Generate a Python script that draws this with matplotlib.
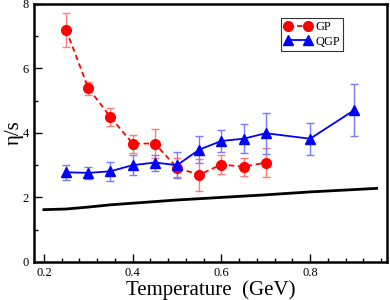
import matplotlib

matplotlib.use("Agg")
import matplotlib.pyplot as plt
from matplotlib.ticker import MultipleLocator

plt.rcParams["font.family"] = ["Liberation Serif", "DejaVu Serif"]

# GP (hadron gas) points
gp_T = [0.25, 0.30, 0.35, 0.40, 0.45, 0.50, 0.55, 0.60, 0.65, 0.70]
gp_eta = [7.2, 5.39, 4.49, 3.67, 3.67, 2.92, 2.70, 3.02, 2.95, 3.08]
gp_err = [0.53, 0.20, 0.28, 0.28, 0.45, 0.30, 0.50, 0.30, 0.28, 0.45]

# QGP points
qgp_T = [0.25, 0.30, 0.35, 0.40, 0.45, 0.50, 0.55, 0.60, 0.65, 0.70, 0.80, 0.90]
qgp_eta = [2.78, 2.76, 2.81, 3.00, 3.08, 3.00, 3.48, 3.75, 3.82, 3.99, 3.82, 4.71]
qgp_err = [0.23, 0.18, 0.30, 0.30, 0.25, 0.40, 0.42, 0.35, 0.45, 0.64, 0.50, 0.80]

# black reference curve
ref_T = [0.20, 0.25, 0.30, 0.35, 0.40, 0.50, 0.60, 0.70, 0.80, 0.95]
ref_eta = [1.62, 1.64, 1.70, 1.77, 1.82, 1.92, 2.00, 2.08, 2.17, 2.28]

fig = plt.figure(figsize=(3.9, 3.0), dpi=100)
ax = fig.add_axes([0.087, 0.127, 0.905, 0.86])

ax.plot(ref_T, ref_eta, color="black", lw=2.0, zorder=2)

ax.errorbar(gp_T, gp_eta, yerr=gp_err, fmt="none", ecolor="#ff7a7a",
            elinewidth=1.0, capsize=3, capthick=1.0, zorder=3)
ax.plot(gp_T, gp_eta, color="red", ls=(0, (3, 2)), lw=1.3, marker="o",
        ms=7, label="GP", zorder=4)

ax.errorbar(qgp_T, qgp_eta, yerr=qgp_err, fmt="none", ecolor="#7a7aff",
            elinewidth=1.0, capsize=3, capthick=1.0, zorder=3)
ax.plot(qgp_T, qgp_eta, color="blue", lw=1.3, marker="^", ms=7,
        label="QGP", zorder=4)

ax.set_xlim(0.1775, 0.973)
ax.set_ylim(0, 8)
ax.xaxis.set_major_locator(MultipleLocator(0.2))
ax.xaxis.set_minor_locator(MultipleLocator(0.04))
ax.yaxis.set_major_locator(MultipleLocator(2))
ax.yaxis.set_minor_locator(MultipleLocator(1))
ax.tick_params(which="both", direction="in", top=False, right=False,
               labelsize=9, width=1.0)
ax.tick_params(which="major", length=6)
ax.tick_params(which="minor", length=3)
for s in ax.spines.values():
    s.set_linewidth(1.8)

ax.set_xlabel("Temperature  (GeV)", fontsize=15, labelpad=1)
ax.set_ylabel("η/s", fontsize=15)
ax.yaxis.set_label_coords(-0.03, 0.5)

leg = ax.legend(loc="upper left", bbox_to_anchor=(0.70, 0.945), numpoints=2,
                fontsize=9, frameon=True, fancybox=False, borderpad=0.25,
                handlelength=2.2, handletextpad=0.3, labelspacing=0.2,
                borderaxespad=0, markerscale=1.0)
leg.get_frame().set_edgecolor("black")
leg.get_frame().set_linewidth(0.8)

fig.savefig("out.png", dpi=100)
